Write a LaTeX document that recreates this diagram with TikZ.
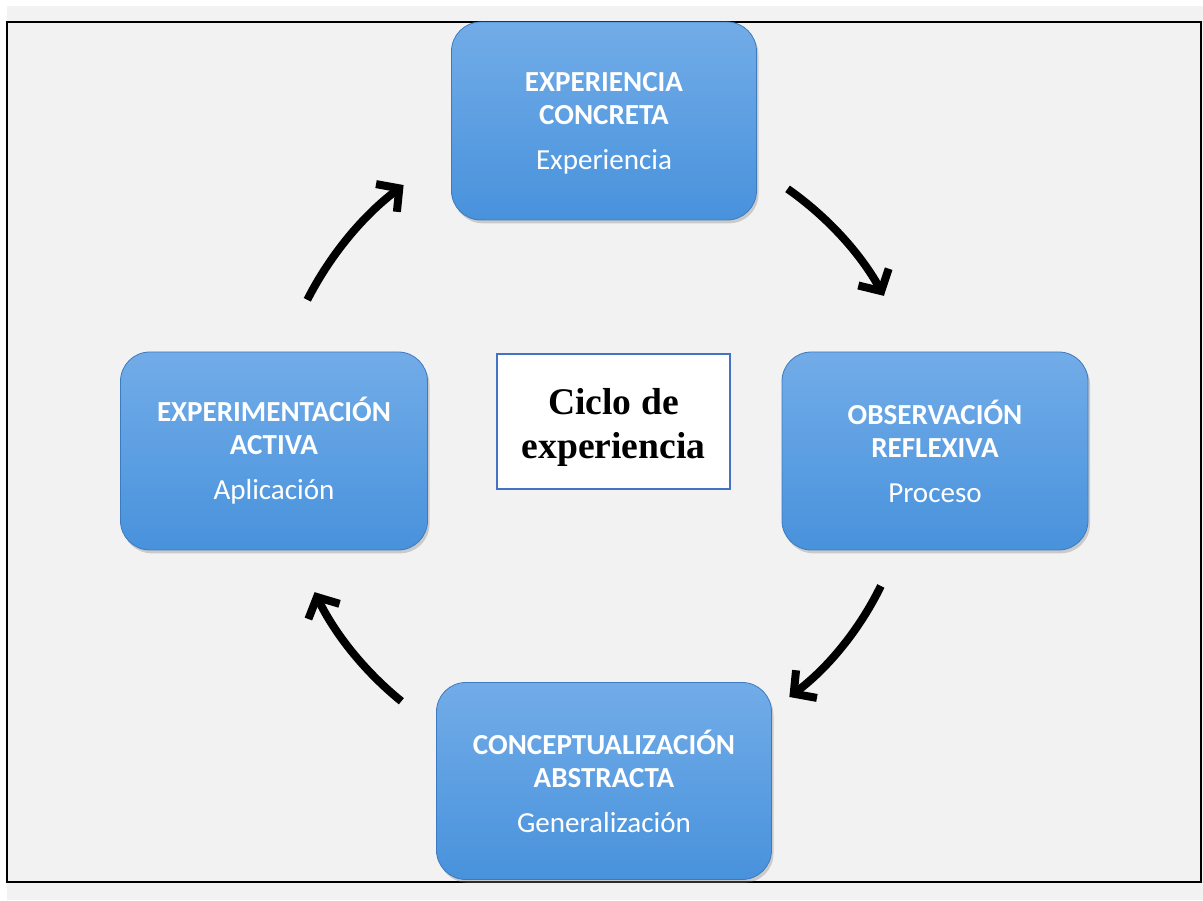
\documentclass[tikz,border=0pt]{standalone}
\usepackage{fontspec}
\setmainfont{Carlito}
\newfontfamily\titlefont{Liberation Serif}
\usetikzlibrary{arrows.meta,shadows,calc}
\definecolor{boxtop}{RGB}{114,172,232}
\definecolor{boxbot}{RGB}{72,146,220}
\definecolor{boxrim}{RGB}{62,122,192}
\definecolor{pagegray}{RGB}{242,242,242}
\definecolor{midrim}{RGB}{68,114,196}
\begin{document}
\begin{tikzpicture}[x=0.75pt,y=0.75pt,
    phase/.style={rounded corners=22pt,draw=boxrim,line width=0.6pt,top color=boxtop,bottom color=boxbot,
      text=white,align=center,inner sep=0pt,minimum height=148.5pt,font=\fontsize{21.8}{24.75}\selectfont,
      drop shadow={shadow xshift=1.5pt,shadow yshift=-2.5pt,opacity=0.35}},
    cyc/.style={line width=6pt,-{Straight Barb[length=12pt,width=26pt]}}]
      \useasboundingbox (0,0) rectangle (1203,900);
      \fill[white] (0,0) rectangle (1203,900);
      \fill[pagegray] (7,0) rectangle (1203,894);
      \draw[line width=1.5pt] (7,18) rectangle (1201,878);
      \coordinate (ring) at (604,449);
      \node[phase,minimum width=228.75pt] (conc) at (604,779) {\rule{0pt}{18.5pt}\textbf{EXPERIENCIA}\\\textbf{CONCRETA}\\[9pt]Experiencia};
      \node[phase,minimum width=229.5pt] (obs) at (935,449) {\textbf{OBSERVACIÓN}\\\textbf{REFLEXIVA}\\[9pt]Proceso};
      \node[phase,minimum width=251.25pt,minimum height=147.75pt] (abs) at (604,119) {\textbf{CONCEPTUALIZACIÓN}\\\textbf{ABSTRACTA}\\[9pt]Generalización};
      \node[phase,minimum width=230.25pt] (act) at (274,449) {\textbf{EXPERIMENTACIÓN}\\\textbf{ACTIVA}\\[9pt]Aplicación};
      \node[draw=midrim,line width=1.5pt,fill=white,minimum width=174.75pt,minimum height=101.25pt,align=center,
        font=\titlefont\bfseries\fontsize{28.2}{33}\selectfont] (ciclo) at (613.5,478.5) {\rule{0pt}{29pt}Ciclo de\\experiencia};
      \foreach \name/\a/\b/\r in {tr/55/29/320,rb/-26/-53/308,bl/231/206/322,lt/153/127/333} {
        \coordinate (\name) at ($(ring)+(\a:\r)$);
        \draw[cyc] (\name) arc[start angle=\a,end angle=\b,radius=\r];
      }
    \end{tikzpicture}
\end{document}
